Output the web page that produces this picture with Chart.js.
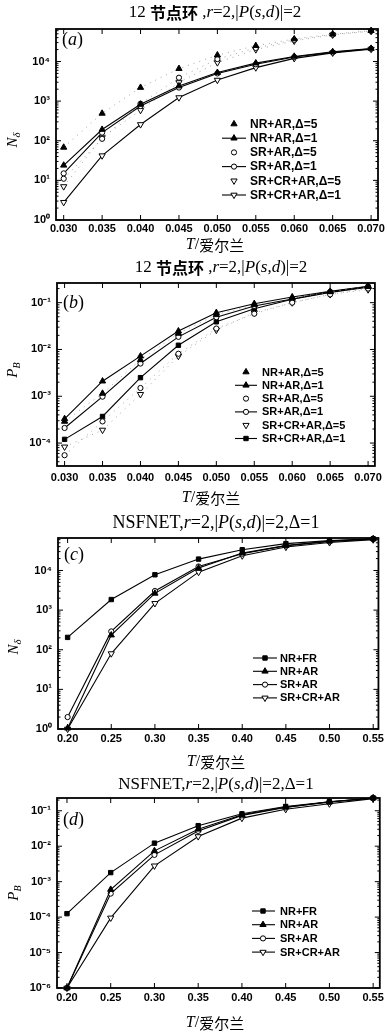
<!DOCTYPE html>
<html><head><meta charset="utf-8">
<script src="https://cdn.jsdelivr.net/npm/chart.js@4.4.0/dist/chart.umd.min.js"></script>
<style>
html,body{margin:0;padding:0;background:#fff;}
#wrap{position:relative;width:387px;height:1032px;overflow:hidden;background:#fff;}
canvas{position:absolute;left:0;}
</style></head><body><div id="wrap">
<canvas id="ca" width="387" height="256" style="top:0px;width:387px;height:256px"></canvas>
<canvas id="cb" width="387" height="254" style="top:256px;width:387px;height:254px"></canvas>
<canvas id="cc" width="387" height="262" style="top:510px;width:387px;height:262px"></canvas>
<canvas id="cd" width="387" height="260" style="top:772px;width:387px;height:260px"></canvas>
</div>
<script>
// ---------------- data ----------------
const tRing = [0.030, 0.035, 0.040, 0.045, 0.050, 0.055, 0.060, 0.065, 0.070];
const tNsf  = [0.20, 0.25, 0.30, 0.35, 0.40, 0.45, 0.50, 0.55];

const labelsRing = ['NR+AR,Δ=5', 'NR+AR,Δ=1', 'SR+AR,Δ=5', 'SR+AR,Δ=1', 'SR+CR+AR,Δ=5', 'SR+CR+AR,Δ=1'];
const labelsNsf  = ['NR+FR', 'NR+AR', 'SR+AR', 'SR+CR+AR'];

// (a) N_delta, 12-node ring
const aNRAR5   = [68, 490, 2200, 6600, 14500, 25000, 37000, 49000, 60000];
const aNRAR1   = [24, 192, 830, 2400, 5250, 9100, 13400, 17600, 21300];
const aSRAR5   = [11, 112, 860, 3900, 11500, 22000, 35000, 48000, 59000];
const aSRAR1   = [15, 160, 750, 2200, 5000, 8500, 13000, 17000, 21000];
const aSRCRAR5 = [7, 120, 590, 2950, 9400, 20000, 33000, 47000, 58000];
const aSRCRAR1 = [2.8, 42, 257, 1230, 3400, 7000, 12000, 16500, 20500];

// (b) P_B, 12-node ring
const bNRAR5   = [2.9e-4, 1.15e-3, 6.0e-3, 0.022, 0.055, 0.090, 0.125, 0.170, 0.220];
const bNRAR1   = [3.3e-4, 2.1e-3, 7.2e-3, 0.0247, 0.061, 0.095, 0.132, 0.174, 0.224];
const bSRAR5   = [5.5e-5, 2.9e-4, 1.5e-3, 8.1e-3, 0.028, 0.058, 0.100, 0.150, 0.200];
const bSRAR1   = [2.1e-4, 9.8e-4, 5.0e-3, 0.0186, 0.049, 0.085, 0.120, 0.170, 0.220];
const bSRCRAR5 = [8.3e-5, 1.9e-4, 1.1e-3, 7.2e-3, 0.026, 0.061, 0.100, 0.150, 0.190];
const bSRCRAR1 = [1.2e-4, 3.7e-4, 2.5e-3, 0.0123, 0.039, 0.074, 0.118, 0.166, 0.215];

// (c) N_delta, NSFNET
const cNRFR   = [205, 1850, 7800, 19400, 33400, 47600, 56600, 63000];
const cNRAR   = [1.05, 234, 2650, 11500, 27500, 42500, 55000, 63000];
const cSRAR   = [2.0, 290, 3040, 12600, 26500, 42500, 54000, 62000];
const cSRCRAR = [1.0, 80, 1480, 9100, 23600, 39000, 51000, 60000];

// (d) P_B, NSFNET
const dNRFR   = [1.25e-4, 1.8e-3, 0.0122, 0.038, 0.082, 0.132, 0.180, 0.230];
const dNRAR   = [1.0e-6, 6.0e-4, 7.4e-3, 0.030, 0.077, 0.127, 0.175, 0.230];
const dSRAR   = [1.0e-6, 4.6e-4, 5.7e-3, 0.027, 0.074, 0.124, 0.180, 0.225];
const dSRCRAR = [1.0e-6, 9.5e-5, 2.8e-3, 0.0188, 0.062, 0.110, 0.158, 0.220];

// tick values
const yTicksN    = [1, 10, 100, 1000, 10000];
const yTicksPB4  = [1e-4, 1e-3, 1e-2, 1e-1];
const yTicksPB6  = [1e-6, 1e-5, 1e-4, 1e-3, 1e-2, 1e-1];

// ---------------- styles ----------------
const SANS = '"Liberation Sans", Arial, sans-serif';
const SERIF = '"Liberation Serif", "Times New Roman", serif';
const CJK = '"Noto Sans CJK SC", sans-serif';

// [shape, filled, solid line]
const specA = [['tri',1,0],['tri',1,1],['circ',0,0],['circ',0,1],['itri',0,0],['itri',0,1]];
const specB = [['tri',1,0],['tri',1,1],['circ',0,0],['circ',0,1],['itri',0,0],['rect',1,1]];
const specC = [['rect',1,1],['tri',1,1],['circ',0,1],['itri',0,1]];

function radiusOf(shape){ return shape==='circ' ? 2.6 : shape==='rect' ? 3.1 : 3.6; }

function mkDatasets(xs, series, labels, specs){
  return series.map((arr, i) => {
    const [shape, filled, solid] = specs[i];
    return {
      label: labels[i],
      data: xs.map((x, j) => ({x: x, y: arr[j]})),
      borderColor: solid ? '#000' : '#9a9a9a',
      borderWidth: solid ? 1.1 : 0.9,
      borderDash: solid ? [] : [1, 5],
      showLine: true,
      pointStyle: shape === 'circ' ? 'circle' : (shape === 'rect' ? 'rect' : 'triangle'),
      rotation: shape === 'itri' ? 180 : 0,
      pointRadius: radiusOf(shape),
      pointHoverRadius: radiusOf(shape),
      pointBackgroundColor: filled ? '#000' : '#fff',
      pointBorderColor: '#000',
      pointBorderWidth: 1,
      tension: 0,
      clip: false,
      _shape: shape, _filled: filled, _solid: solid
    };
  });
}

function supText(v){
  const map = {'-':'⁻','0':'⁰','1':'¹','2':'²','3':'³','4':'⁴','5':'⁵','6':'⁶','7':'⁷','8':'⁸','9':'⁹'};
  const e = String(Math.round(Math.log10(v)));
  return '10' + e.split('').map(c => map[c]).join('');
}

function drawRich(ctx, segs, x, y, align){
  let w = 0;
  segs.forEach(s => { ctx.font = s.f; w += ctx.measureText(s.t).width; });
  let sx = align === 'center' ? x - w/2 : (align === 'right' ? x - w : x);
  ctx.textAlign = 'left'; ctx.textBaseline = 'middle'; ctx.fillStyle = '#000';
  segs.forEach(s => { ctx.font = s.f; ctx.fillText(s.t, sx, y + (s.dy || 0)); sx += ctx.measureText(s.t).width; });
}

function drawMarker(ctx, shape, filled, x, y, r){
  ctx.beginPath();
  if (shape === 'circ') { ctx.arc(x, y, r, 0, Math.PI*2); }
  else if (shape === 'rect') { const s = r*Math.SQRT1_2; ctx.rect(x-s, y-s, 2*s, 2*s); }
  else {
    const rot = shape === 'itri' ? Math.PI : 0;
    for (let k = 0; k < 3; k++) {
      const a = rot - Math.PI/2 + k*2*Math.PI/3;
      const px = x + Math.cos(a)*r, py = y + Math.sin(a)*r;
      if (k === 0) ctx.moveTo(px, py); else ctx.lineTo(px, py);
    }
    ctx.closePath();
  }
  ctx.fillStyle = filled ? '#000' : '#fff';
  ctx.fill();
  ctx.lineWidth = 1; ctx.strokeStyle = '#000'; ctx.setLineDash([]);
  ctx.stroke();
}

const deco = {
  id: 'deco',
  afterDraw(chart, args, o){
    const ctx = chart.ctx, ca = chart.chartArea, xs = chart.scales.x, ys = chart.scales.y;
    ctx.save();
    ctx.setLineDash([]);
    ctx.strokeStyle = '#000'; ctx.lineWidth = 1;
    const seg = (x1,y1,x2,y2) => { ctx.beginPath(); ctx.moveTo(x1,y1); ctx.lineTo(x2,y2); ctx.stroke(); };
    o.xTicks.forEach(v => {
      const px = xs.getPixelForValue(v);
      seg(px, ca.bottom, px, ca.bottom - 5);
      seg(px, ca.top, px, ca.top + 5);
    });
    const lo = Math.floor(Math.log10(ys.min)) , hi = Math.ceil(Math.log10(ys.max));
    for (let k = lo; k <= hi; k++) {
      for (let m = 1; m <= 9; m++) {
        const v = m * Math.pow(10, k);
        if (v < ys.min * 0.999 || v > ys.max * 1.001) continue;
        const py = ys.getPixelForValue(v);
        const L = m === 1 ? 5 : 2.5;
        seg(ca.left, py, ca.left + L, py);
        seg(ca.right, py, ca.right - L, py);
      }
    }
    ctx.lineWidth = 1.8;
    ctx.strokeRect(ca.left, ca.top, ca.right - ca.left, ca.bottom - ca.top);

    // titles & labels
    drawRich(ctx, o.title, o.titleX, o.titleY, 'center');
    drawRich(ctx, o.panel, ca.left + 6, o.panelY, 'left');
    drawRich(ctx, o.xTitle, o.xTitleX, o.xTitleY, 'center');
    ctx.save();
    ctx.translate(o.yTitleX, o.yTitleY);
    ctx.rotate(-Math.PI/2);
    drawRich(ctx, o.yTitle, 0, 0, 'center');
    ctx.restore();

    // legend
    const L = o.legend;
    chart.data.datasets.forEach((d, i) => {
      const y = L.y0 + i * L.dy;
      if (d._solid) {
        ctx.setLineDash([]); ctx.lineWidth = 1.1; ctx.strokeStyle = '#000';
        seg(L.x0, y, L.x1, y);
      }
      drawMarker(ctx, d._shape, d._filled, L.mx, y, radiusOf(d._shape));
      ctx.font = L.font; ctx.fillStyle = '#000';
      ctx.textAlign = 'left'; ctx.textBaseline = 'middle';
      ctx.fillText(d.label, L.tx, y + 0.5);
    });
    ctx.restore();
  }
};

function titleSegs(prefixSegs, size, tail){
  const n = size + 'px ' + SERIF, it = 'italic ' + size + 'px ' + SERIF;
  return prefixSegs.concat([
    {t:'r', f:it}, {t:'=2,|', f:n}, {t:'P', f:it}, {t:'(', f:n}, {t:'s', f:it},
    {t:',', f:n}, {t:'d', f:it}, {t:')|=2' + tail, f:n}
  ]);
}
const ringTitle = titleSegs([{t:'12 ', f:'17px ' + SERIF}, {t:'节点环', f:'bold 16px ' + CJK}, {t:' ,', f:'17px ' + SERIF}], 17, '');
const nsfTitleC = titleSegs([{t:'NSFNET,', f:'18px ' + SERIF}], 18, ',Δ=1');
const nsfTitleD = titleSegs([{t:'NSFNET,', f:'17px ' + SERIF}], 17, ',Δ=1');
const xTitle = [{t:'T', f:'italic 16px ' + SERIF}, {t:'/', f:'16px ' + SERIF}, {t:'爱尔兰', f:'15px ' + CJK}];
const yTitleN = [{t:'N', f:'italic 15px ' + SERIF}, {t:'δ', f:'italic 11px ' + SERIF, dy:4}];
const yTitleP = [{t:'P', f:'italic 15px ' + SERIF}, {t:'B', f:'italic 10px ' + SERIF, dy:4}];
function panelSegs(ch){ return [{t:'(', f:'18px ' + SERIF}, {t:ch, f:'italic 18px ' + SERIF}, {t:')', f:'18px ' + SERIF}]; }

function makeChart(id, cfg){
  const tickFont = {family: SANS, size: 11, weight: 'bold'};
  return new Chart(document.getElementById(id), {
    type: 'scatter',
    data: { datasets: cfg.datasets },
    plugins: [deco],
    options: {
      responsive: false, animation: false, devicePixelRatio: 1,
      events: [],
      layout: { autoPadding: false, padding: { top: cfg.top, right: cfg.right, bottom: 0, left: 0 } },
      plugins: {
        legend: { display: false }, tooltip: { enabled: false }, title: { display: false },
        deco: cfg.deco
      },
      scales: {
        x: {
          type: 'linear', min: cfg.xmin, max: cfg.xmax,
          grid: { display: false, drawTicks: false }, border: { display: false },
          afterBuildTicks: s => { s.ticks = cfg.xTicks.map(v => ({value: v})); },
          afterFit: s => { s.height = cfg.xh; },
          ticks: { callback: v => Number(v).toFixed(cfg.dec), font: tickFont, color: '#000',
                   padding: cfg.xpad, maxRotation: 0, minRotation: 0, autoSkip: false }
        },
        y: {
          type: 'logarithmic', min: cfg.ymin, max: cfg.ymax,
          grid: { display: false, drawTicks: false }, border: { display: false },
          afterBuildTicks: s => { s.ticks = cfg.yTicks.map(v => ({value: v})); },
          afterFit: s => { s.width = cfg.left; },
          ticks: { callback: v => supText(v), font: tickFont, color: '#000', padding: 6, autoSkip: false }
        }
      }
    }
  });
}

makeChart('ca', {
  datasets: mkDatasets(tRing, [aNRAR5, aNRAR1, aSRAR5, aSRAR1, aSRCRAR5, aSRCRAR1], labelsRing, specA),
  top: 29, right: 7, left: 56, xh: 36, xpad: 2, dec: 3,
  xmin: 0.0290, xmax: 0.0709, xTicks: tRing,
  ymin: 1, ymax: Math.pow(10, 4.82), yTicks: yTicksN,
  deco: { xTicks: tRing, title: ringTitle, titleX: 215, titleY: 13, panel: panelSegs('a'), panelY: 40,
          xTitle: xTitle, xTitleX: 215, xTitleY: 245, yTitle: yTitleN, yTitleX: 13, yTitleY: 140,
          legend: { x0: 222, x1: 246, mx: 234, tx: 250, y0: 124, dy: 14.2, font: 'bold 12px ' + SANS } }
});

makeChart('cb', {
  datasets: mkDatasets(tRing, [bNRAR5, bNRAR1, bSRAR5, bSRAR1, bSRCRAR5, bSRCRAR1], labelsRing, specB),
  top: 27, right: 7, left: 57, xh: 44, xpad: 5, dec: 3,
  xmin: 0.0290, xmax: 0.0709, xTicks: tRing,
  ymin: Math.pow(10, -4.49), ymax: Math.pow(10, -0.58), yTicks: yTicksPB4,
  deco: { xTicks: tRing, title: ringTitle, titleX: 221, titleY: 12, panel: panelSegs('b'), panelY: 47,
          xTitle: xTitle, xTitleX: 211, xTitleY: 242, yTitle: yTitleP, yTitleX: 13, yTitleY: 114,
          legend: { x0: 235, x1: 257, mx: 246, tx: 262, y0: 116, dy: 13.3, font: 'bold 11px ' + SANS } }
});

makeChart('cc', {
  datasets: mkDatasets(tNsf, [cNRFR, cNRAR, cSRAR, cSRCRAR], labelsNsf, specC),
  top: 28, right: 6, left: 58, xh: 43, xpad: 3, dec: 2,
  xmin: 0.189, xmax: 0.556, xTicks: tNsf,
  ymin: 1, ymax: Math.pow(10, 4.82), yTicks: yTicksN,
  deco: { xTicks: tNsf, title: nsfTitleC, titleX: 216, titleY: 13, panel: panelSegs('c'), panelY: 45,
          xTitle: xTitle, xTitleX: 216, xTitleY: 252, yTitle: yTitleN, yTitleX: 14, yTitleY: 137,
          legend: { x0: 253, x1: 277, mx: 265, tx: 280, y0: 148, dy: 13.3, font: 'bold 11px ' + SANS } }
});

makeChart('cd', {
  datasets: mkDatasets(tNsf, [dNRFR, dNRAR, dSRAR, dSRCRAR], labelsNsf, specC),
  top: 26, right: 7, left: 57, xh: 44, xpad: 3, dec: 2,
  xmin: 0.1886, xmax: 0.5576, xTicks: tNsf,
  ymin: 1e-6, ymax: Math.pow(10, -0.64), yTicks: yTicksPB6,
  deco: { xTicks: tNsf, title: nsfTitleD, titleX: 216, titleY: 13, panel: panelSegs('d'), panelY: 48,
          xTitle: xTitle, xTitleX: 215, xTitleY: 251, yTitle: yTitleP, yTitleX: 14, yTitleY: 121,
          legend: { x0: 252, x1: 275, mx: 263, tx: 280, y0: 139, dy: 13.7, font: 'bold 11px ' + SANS } }
});
</script></body></html>
